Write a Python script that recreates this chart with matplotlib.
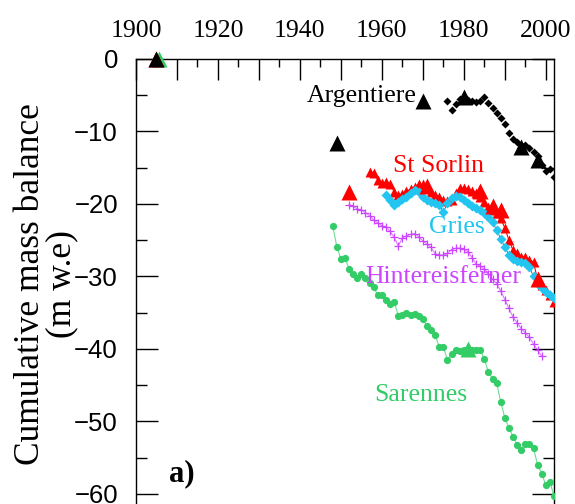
import numpy as np
import matplotlib
matplotlib.use('Agg')
import matplotlib.pyplot as plt
from matplotlib.ticker import MultipleLocator

# Argentiere (black diamonds)
arg_years = list(range(1976, 2003))
arg_vals = [-5.8, -7.0, -6.2, -5.5, -5.3, -5.6, -5.8, -6.0, -5.8, -5.2,
            -6.1, -6.8, -7.5, -8.2, -8.9, -10.2, -11.1, -11.4, -11.8, -11.9,
            -12.3, -12.8, -13.4, -14.6, -15.4, -15.2, -16.3]
arg_big_years = [1905, 1949, 1970, 1980, 1994, 1998]
arg_big_vals = [0, -11.6, -5.8, -5.2, -12.2, -14.0]

# St Sorlin (red triangles)
sor_years = list(range(1957, 2003))
sor_vals = [-15.6, -15.7, -16.7, -17.1, -17.0, -17.3, -18.3, -18.8, -18.6, -18.2,
            -18.0, -17.6, -17.3, -17.3, -17.7, -18.3, -18.8, -19.0, -19.4, -19.6,
            -19.4, -18.5, -17.8, -17.8, -18.0, -18.2, -18.5, -19.0, -19.7, -20.4,
            -20.8, -21.2, -22.0, -23.3, -25.0, -26.4, -26.8, -27.3, -27.3, -27.7,
            -28.0, -30.5, -31.2, -31.9, -32.6, -33.5]
sor_big_years = [1904.8, 1952, 1971, 1984, 1987, 1989, 1998]
sor_big_vals = [0, -18.3, -17.5, -18.2, -20.3, -20.8, -30.3]

# Gries (cyan diamonds)
gri_years = list(range(1961, 2003))
gri_vals = [-18.8, -19.5, -20.1, -19.7, -19.3, -19.0, -18.5, -18.1, -18.4, -19.0,
            -19.4, -19.7, -19.9, -20.1, -21.1, -19.9, -19.2, -18.9, -19.1, -19.5,
            -19.9, -20.3, -20.6, -20.9, -21.3, -21.8, -22.5, -23.6, -24.8, -26.0,
            -27.0, -27.6, -27.9, -28.0, -28.2, -28.7, -30.0, -31.0, -31.6, -32.1,
            -32.6, -33.0]

# Hintereisferner (magenta crosses)
hin_years = list(range(1952, 2000))
hin_vals = [-20.1, -20.3, -20.7, -20.8, -21.2, -21.6, -22.2, -22.6, -23.0, -23.2,
            -23.8, -24.6, -25.8, -24.7, -24.4, -24.2, -24.1, -24.5, -25.1, -25.5,
            -26.0, -26.9, -27.0, -27.1, -26.8, -26.3, -26.1, -26.1, -26.2, -26.6,
            -27.4, -28.3, -28.6, -29.0, -29.6, -30.4, -31.0, -32.0, -33.2, -34.4,
            -35.6, -36.4, -37.2, -37.8, -38.4, -39.3, -40.2, -41.0]

# Sarennes (green dots)
sar_years = list(range(1948, 2003))
sar_vals = [-23.0, -25.9, -27.6, -27.4, -29.0, -29.7, -30.2, -29.7, -30.2, -30.9,
            -31.5, -32.6, -32.6, -33.2, -33.8, -33.5, -35.4, -35.3, -35.0, -35.3,
            -35.2, -35.4, -35.9, -36.8, -37.4, -38.1, -39.7, -39.7, -41.6, -40.7,
            -40.1, -40.3, -40.2, -40.2, -40.1, -40.1, -40.1, -41.4, -43.2, -44.1,
            -44.7, -47.3, -49.5, -50.9, -52.1, -53.2, -53.9, -53.1, -53.1, -53.7,
            -56.0, -57.2, -58.8, -58.3, -60.3]
sar_big_years = [1905.5, 1981]
sar_big_vals = [0, -40.0]

c_red = '#ff0000'
c_cyan = '#22c4f0'
c_mag = '#cc44ff'
c_green = '#33cc66'

serif = 'Liberation Serif'
sans = 'Liberation Sans'
fs = 18.5

fig = plt.figure(figsize=(5.75, 5.04), dpi=100)
ax = fig.add_axes([136/575, 0, (554-136)/575, 1 - 59/504])

ax.plot(sar_years, sar_vals, '-', color=c_green, lw=0.8, alpha=0.7, zorder=2)
ax.plot(sar_years, sar_vals, 'o', color=c_green, ms=5.2, mec='none', zorder=3)
ax.plot(hin_years, hin_vals, '-', color=c_mag, lw=0.8, alpha=0.7, zorder=2)
ax.plot(hin_years, hin_vals, '+', color=c_mag, ms=6, mew=0.9, zorder=3)
ax.plot(sor_years, sor_vals, '-', color=c_red, lw=0.8, zorder=2)
ax.plot(sor_years, sor_vals, '^', color=c_red, ms=6.5, mec='none', zorder=3)
ax.plot(gri_years, gri_vals, '-', color='#555555', lw=0.6, zorder=3)
ax.plot(gri_years, gri_vals, 'D', color=c_cyan, ms=5, mec='none', zorder=4)
ax.plot(arg_years, arg_vals, 'D', color='black', ms=4.2, mec='none', zorder=4)

ax.plot(sar_big_years, sar_big_vals, '^', color=c_green, ms=12, mec='none', zorder=5, clip_on=False)
ax.plot(sor_big_years, sor_big_vals, '^', color=c_red, ms=12, mec='none', zorder=6, clip_on=False)
ax.plot(arg_big_years, arg_big_vals, '^', color='black', ms=11, mec='none', zorder=7, clip_on=False)

ax.text(1955.0, -5.1, 'Argentiere', color='black', family=serif, fontsize=fs, ha='center', va='center')
ax.text(1973.8, -14.8, 'St Sorlin', color=c_red, family=serif, fontsize=fs, ha='center', va='center')
ax.text(1978.2, -23.2, 'Gries', color=c_cyan, family=serif, fontsize=fs, ha='center', va='center')
ax.text(1975.1, -30.1, 'Hintereisferner', color=c_mag, family=serif, fontsize=fs, ha='center', va='center')
ax.text(1969.5, -46.3, 'Sarennes', color=c_green, family=serif, fontsize=fs, ha='center', va='center')
ax.text(1911.2, -57.2, 'a)', color='black', family=serif, fontsize=22, fontweight='bold',
        ha='center', va='center')

ax.set_xlim(1900, 2002)
ax.set_ylim(-61.4, 0)

ax.xaxis.set_major_locator(MultipleLocator(10))
ax.xaxis.set_minor_locator(MultipleLocator(5))
ax.xaxis.set_major_formatter(plt.FuncFormatter(lambda v, p: f'{int(v)}' if int(v) % 20 == 0 else ''))
ax.yaxis.set_major_locator(MultipleLocator(10))
ax.yaxis.set_minor_locator(MultipleLocator(5))

ax.xaxis.tick_top()
ax.tick_params(axis='x', which='both', direction='in', top=True, bottom=False,
               labeltop=True, labelbottom=False)
ax.tick_params(axis='x', which='major', length=15, width=1, pad=12)
ax.tick_params(axis='x', which='minor', length=6, width=1)
ax.tick_params(axis='y', which='both', direction='in', left=True, right=True)
ax.tick_params(axis='y', which='major', length=16, width=1, pad=13)
ax.tick_params(axis='y', which='minor', length=8, width=1)

for lab in ax.get_xticklabels():
    lab.set_fontfamily(serif)
    lab.set_fontsize(fs)
for lab in ax.get_yticklabels():
    lab.set_fontfamily(sans)
    lab.set_fontsize(fs)

ax.spines['bottom'].set_visible(False)
for s in ['top', 'left', 'right']:
    ax.spines[s].set_linewidth(1)

fig.text(46/575, 1 - 284/504, 'Cumulative mass balance\n(m w.e)', family=serif,
         fontsize=25.5, rotation=90, ha='center', va='center', linespacing=0.95,
         multialignment='center')

fig.savefig('out.png', dpi=100)
